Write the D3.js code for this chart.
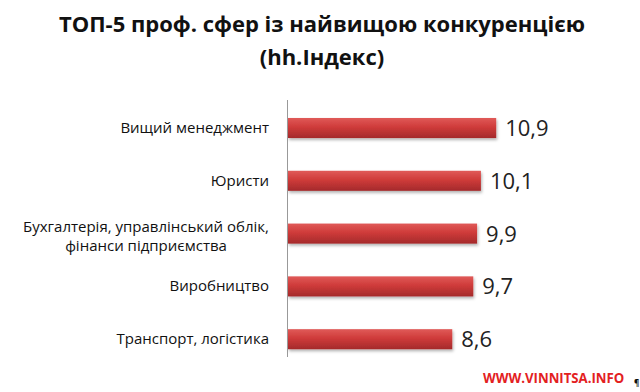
<!DOCTYPE html>
<html>
<head>
<meta charset="utf-8">
<script src="https://cdn.jsdelivr.net/npm/d3@7"></script>
<style>
  body { margin: 0; background: #fff; }
  text { font-family: "Open Sans", "Noto Sans", sans-serif; }
</style>
</head>
<body>
<script>
// data
let categories = [
  ["Вищий менеджмент"],
  ["Юристи"],
  ["Бухгалтерія, управлінський облік,", "фінанси підприємства"],
  ["Виробництво"],
  ["Транспорт, логістика"]
];
let values = [10.9, 10.1, 9.9, 9.7, 8.6];
let valueLabels = ["10,9", "10,1", "9,9", "9,7", "8,6"];
let titleLines = ["ТОП-5 проф. сфер із найвищою конкуренцією", "(hh.Індекс)"];

let width = 640, height = 392;
let x0 = 288;

let svg = d3.select("body").append("svg")
    .attr("width", width)
    .attr("height", height);

let defs = svg.append("defs");
let grad = defs.append("linearGradient")
    .attr("id", "barGrad")
    .attr("x1", 0).attr("y1", 0).attr("x2", 0).attr("y2", 1);
grad.append("stop").attr("offset", "0%").attr("stop-color", "#e05a58");
grad.append("stop").attr("offset", "45%").attr("stop-color", "#cf3b3a");
grad.append("stop").attr("offset", "100%").attr("stop-color", "#a42a2b");

let shadow = defs.append("filter").attr("id", "shadow")
    .attr("x", "-5%").attr("y", "-20%").attr("width", "115%").attr("height", "160%");
shadow.append("feDropShadow")
    .attr("dx", 1).attr("dy", 2).attr("stdDeviation", 1.5)
    .attr("flood-color", "#000").attr("flood-opacity", 0.3);

// title
svg.selectAll(".title")
    .data(titleLines)
    .enter()
    .append("text")
    .attr("class", "title")
    .attr("x", 322)
    .attr("y", (d, i) => 32 + i * 33)
    .attr("text-anchor", "middle")
    .attr("font-size", 22)
    .attr("font-weight", "bold")
    .attr("fill", "#111")
    .text(d => d);

let xScale = d3.scaleLinear()
    .domain([0, 11])
    .range([x0, x0 + 11 * 19.1]);

let yScale = d3.scaleBand()
    .domain(d3.range(values.length))
    .range([101.6, 365.6])
    .paddingInner(0.62)
    .paddingOuter(0.31);

svg.selectAll(".bar")
    .data(values)
    .enter()
    .append("rect")
    .attr("class", "bar")
    .attr("x", xScale(0))
    .attr("y", (d, i) => yScale(i))
    .attr("width", d => xScale(d) - xScale(0))
    .attr("height", yScale.bandwidth())
    .attr("fill", "url(#barGrad)")
    .attr("filter", "url(#shadow)");

// axis line
svg.append("line")
    .attr("x1", x0 - 0.5).attr("x2", x0 - 0.5)
    .attr("y1", 100).attr("y2", 357)
    .attr("stroke", "#999")
    .attr("stroke-width", 1);

// value labels
svg.selectAll(".val")
    .data(values)
    .enter()
    .append("text")
    .attr("class", "val")
    .attr("x", d => xScale(d) + 9)
    .attr("y", (d, i) => yScale(i) + yScale.bandwidth() / 2 + 8)
    .attr("font-size", 22)
    .attr("fill", "#222")
    .text((d, i) => valueLabels[i]);

// category labels
let lineH = 19;
let labelSize = 15;
categories.forEach((lines, i) => {
  let cy = yScale(i) + yScale.bandwidth() / 2;
  let g = svg.append("g");
  let first = g.append("text")
      .attr("x", 269)
      .attr("y", cy + 5 - (lines.length - 1) * lineH / 2 + (lines.length > 1 ? 3 : 0))
      .attr("text-anchor", "end")
      .attr("font-size", labelSize)
      .attr("fill", "#111")
      .text(lines[0]);
  if (lines.length > 1) {
    let w = first.node().getComputedTextLength();
    let cx = 269 - w / 2;
    lines.slice(1).forEach((t, j) => {
      g.append("text")
        .attr("x", cx)
        .attr("y", +first.attr("y") + (j + 1) * lineH)
        .attr("text-anchor", "middle")
        .attr("font-size", labelSize)
        .attr("fill", "#111")
        .text(t);
    });
  }
});

// watermark (condensed by scaling)
svg.append("g")
    .attr("transform", "translate(483,383) scale(0.88,1)")
    .append("text")
    .attr("font-family", "'Liberation Sans', Arial, sans-serif")
    .attr("font-size", 15)
    .attr("font-weight", "bold")
    .attr("fill", "#e3211f")
    .text("WWW.VINNITSA.INFO");
svg.append("text")
    .attr("x", 634)
    .attr("y", 386)
    .attr("font-size", 8)
    .attr("font-weight", "bold")
    .attr("fill", "#111")
    .text("¶");
</script>
</body>
</html>
